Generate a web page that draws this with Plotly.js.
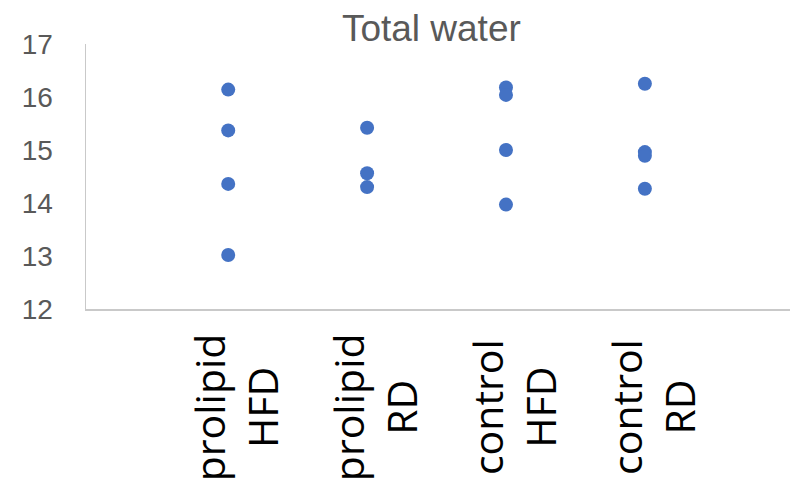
<!DOCTYPE html>
<html>
<head>
<meta charset="utf-8">
<script src="https://cdn.plot.ly/plotly-3.0.1.min.js"></script>
<style>html,body{margin:0;padding:0;background:#fff;}#chart{width:790px;height:484px;}</style>
</head>
<body>
<div id="chart"></div>
<script>
var categories = ["prolipid<br>HFD", "prolipid<br>RD", "control<br>HFD", "control<br>RD"];
var categoryPos = [1, 2, 3, 4];
var prolipidHFD = [16.14, 15.37, 14.36, 13.02];
var prolipidRD = [15.42, 14.56, 14.30];
var controlHFD = [16.18, 16.04, 15.00, 13.97];
var controlRD = [16.25, 14.96, 14.89, 14.27];
var yTicks = [12, 13, 14, 15, 16, 17];

var groups = [prolipidHFD, prolipidRD, controlHFD, controlRD];
var xs = [], ys = [];
groups.forEach(function (g, i) {
  g.forEach(function (v) { xs.push(categoryPos[i]); ys.push(v); });
});

var trace = {
  type: 'scatter',
  mode: 'markers',
  x: xs,
  y: ys,
  marker: {color: '#4472C4', size: 14},
  hoverinfo: 'x+y',
  showlegend: false
};

// category labels: centred two-line rotated labels placed on the x scale
var labelAnnotations = categories.map(function (c, i) {
  return {
    text: c,
    x: categoryPos[i],
    xref: 'x',
    xshift: 7,
    y: -0.37,
    yref: 'paper',
    xanchor: 'center',
    yanchor: 'middle',
    textangle: -90,
    align: 'center',
    showarrow: false,
    font: {family: 'Open Sans, sans-serif', size: 41, color: '#000000'}
  };
});

var layout = {
  width: 790,
  height: 484,
  margin: {l: 86, r: 0, t: 44, b: 175},
  paper_bgcolor: '#ffffff',
  plot_bgcolor: '#ffffff',
  title: {
    text: 'Total water',
    font: {family: 'Liberation Sans, Arial, sans-serif', size: 37, color: '#595959'},
    x: 0.546, xref: 'container', xanchor: 'center',
    y: 0.942, yref: 'container', yanchor: 'middle'
  },
  xaxis: {
    range: [-0.024, 5.045],
    tickvals: categoryPos,
    showticklabels: false,
    ticks: '',
    showgrid: false,
    zeroline: false,
    showline: true,
    linecolor: '#c9c9c9',
    linewidth: 1.5
  },
  yaxis: {
    range: [12, 17],
    tickvals: yTicks,
    ticks: '',
    showgrid: false,
    zeroline: false,
    showline: true,
    linecolor: '#c9c9c9',
    linewidth: 1.5,
    ticklabelstandoff: 26,
    tickfont: {family: 'Liberation Sans, Arial, sans-serif', size: 28, color: '#595959'}
  },
  annotations: labelAnnotations
};

Plotly.newPlot('chart', [trace], layout, {displayModeBar: false, staticPlot: true});
</script>
</body>
</html>
